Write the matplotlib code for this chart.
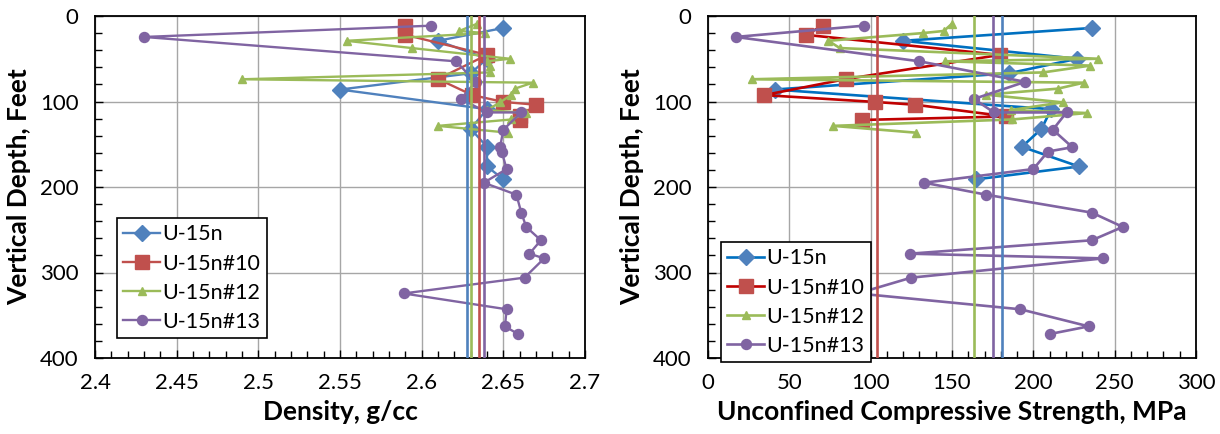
import matplotlib
matplotlib.use('Agg')
import matplotlib.pyplot as plt
from matplotlib.ticker import MultipleLocator, FuncFormatter

plt.rcParams['font.family'] = ['Lato', 'DejaVu Sans']

# ── 資料 ──────────────────────────────────────────────
SERIES = ['U-15n', 'U-15n#10', 'U-15n#12', 'U-15n#13']

# U-15n
d_15n = [14, 29, 50, 67, 86, 109, 132, 153, 176, 191]
rho_15n = [2.650, 2.610, 2.640, 2.630, 2.550, 2.640, 2.630, 2.640, 2.640, 2.650]
ucs_15n = [236, 120, 227, 185, 41, 211, 205, 193, 228, 165]

# U-15n#10
d_10 = [11.5, 22, 45.5, 73.7, 92.5, 100.5, 103.8, 117.5, 121.6]
rho_10 = [2.590, 2.590, 2.640, 2.610, 2.631, 2.650, 2.670, 2.660, 2.660]
ucs_10 = [70.5, 60, 179.5, 85, 34.5, 102.5, 127.5, 183.5, 94.5]

# U-15n#12
d_12 = [9, 17.5, 20, 29, 37.5, 50, 53, 58, 66, 74, 78, 85, 92, 101, 110,
        113.5, 121, 128.5, 136.5]
rho_12 = [2.634, 2.623, 2.639, 2.554, 2.594, 2.654, 2.640, 2.642, 2.642, 2.490,
          2.668, 2.657, 2.655, 2.648, 2.640, 2.664, 2.655, 2.610, 2.653]
ucs_12 = [150, 145, 132, 74, 81, 240, 146, 235, 206, 27, 231, 215, 171, 218,
          186, 233, 187, 77, 128]

# U-15n#13
d_13 = [11.3, 24.5, 53, 77, 97, 112.8, 112.8, 133, 153.5, 158.5, 179, 195,
        209, 230, 246.7, 262.3, 278, 283.5, 306, 324.5, 343, 363, 372]
rho_13 = [2.606, 2.430, 2.621, 2.633, 2.624, 2.640, 2.661, 2.650, 2.648, 2.649,
          2.652, 2.638, 2.658, 2.661, 2.664, 2.673, 2.666, 2.675, 2.663, 2.589,
          2.652, 2.651, 2.659]
ucs_13 = [96, 17, 130, 195, 163.5, 175.8, 220.4, 212, 224, 209, 200, 133, 171,
          236, 255, 236, 124, 243, 125, 92, 192, 234, 210]

# 平均值（垂直線）
rho_mean = [2.628, 2.635, 2.630, 2.638]
ucs_mean = [181, 104, 163.5, 175.5]

DEPTHS = [d_15n, d_10, d_12, d_13]
RHOS = [rho_15n, rho_10, rho_12, rho_13]
UCSS = [ucs_15n, ucs_10, ucs_12, ucs_13]

# ── 樣式 ──────────────────────────────────────────────
MARK_C = ['#4F81BD', '#C0504D', '#9BBB59', '#8064A2']
LINE_L = ['#4F81BD', '#C0504D', '#9BBB59', '#8064A2']
LINE_R = ['#0070C0', '#C00000', '#9BBB59', '#8064A2']
MARKERS = ['D', 's', '^', 'o']
MS = [8.5, 9.5, 6, 7.2]


def style_axes(ax, xlim, xmaj, xmin, xlabel):
    ax.set_xlim(*xlim)
    ax.set_ylim(400, 0)
    ax.xaxis.set_major_locator(MultipleLocator(xmaj))
    ax.xaxis.set_minor_locator(MultipleLocator(xmin))
    ax.yaxis.set_major_locator(MultipleLocator(100))
    ax.yaxis.set_minor_locator(MultipleLocator(20))
    ax.xaxis.set_major_formatter(FuncFormatter(lambda v, p: f'{v:g}'))
    ax.grid(True, which='major', color='#A6A6A6', linewidth=1.0, zorder=0)
    ax.set_axisbelow(True)
    ax.tick_params(which='both', direction='in', labelsize=16, colors='black')
    ax.tick_params(which='major', length=6, width=1)
    ax.tick_params(which='minor', length=5, width=1)
    ax.tick_params(axis='x', pad=11)
    ax.tick_params(axis='y', pad=12)
    for s in ax.spines.values():
        s.set_linewidth(1.3)
        s.set_color('black')
    ax.set_xlabel(xlabel, fontsize=19, fontweight='bold', labelpad=5)
    ax.set_ylabel('Vertical Depth, Feet', fontsize=19, fontweight='bold',
                  labelpad=6)


fig = plt.figure(figsize=(12.2, 4.34), dpi=100)
ax1 = fig.add_axes([95 / 1220, 1 - 358 / 434, 490 / 1220, 342 / 434])
ax2 = fig.add_axes([708 / 1220, 1 - 358 / 434, 488 / 1220, 342 / 434])

for i, name in enumerate(SERIES):
    ax1.plot(RHOS[i], DEPTHS[i], color=LINE_L[i], lw=1.7, marker=MARKERS[i],
             ms=MS[i], mfc=MARK_C[i], mec=MARK_C[i], label=name, zorder=3 + i)
    ax2.plot(UCSS[i], DEPTHS[i], color=LINE_R[i], lw=1.9, marker=MARKERS[i],
             ms=MS[i], mfc=MARK_C[i], mec=MARK_C[i], label=name, zorder=3 + i)

for i in range(4):
    ax1.plot([rho_mean[i]] * 2, [0, 400], color=LINE_L[i], lw=1.9, zorder=8)
    ax2.plot([ucs_mean[i]] * 2, [0, 400], color=MARK_C[i], lw=1.9, zorder=8)

style_axes(ax1, (2.4, 2.7), 0.05, 0.01, 'Density, g/cc')
style_axes(ax2, (0, 300), 50, 10, 'Unconfined Compressive Strength, MPa')

leg_kw = dict(fontsize=15.5, frameon=True, fancybox=False, edgecolor='black',
              framealpha=1, borderpad=0.3, labelspacing=0.42,
              handlelength=1.7, handletextpad=0.1, borderaxespad=0)
lg1 = ax1.legend(loc='upper left', bbox_to_anchor=((117 - 95) / 490, (358 - 218) / 342),
                 **leg_kw)
lg2 = ax2.legend(loc='upper left', bbox_to_anchor=((721 - 708) / 488, (358 - 242) / 342),
                 **leg_kw)
for lg in (lg1, lg2):
    lg.get_frame().set_linewidth(1.2)
    lg.set_zorder(20)

fig.savefig('out.png', dpi=100)
